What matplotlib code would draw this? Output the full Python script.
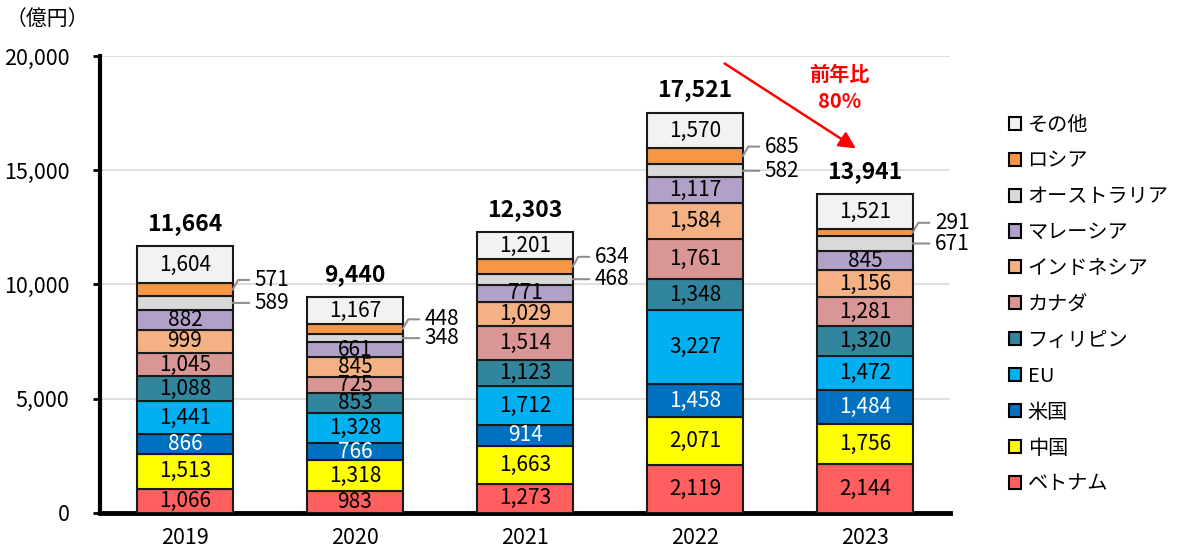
import numpy as np
import matplotlib
matplotlib.use("Agg")
import matplotlib.pyplot as plt
from matplotlib.patches import Patch

plt.rcParams['font.family'] = ['Noto Sans CJK JP', 'DejaVu Sans']

years = ['2019', '2020', '2021', '2022', '2023']
countries = ['ベトナム', '中国', '米国', 'EU', 'フィリピン', 'カナダ',
             'インドネシア', 'マレーシア', 'オーストラリア', 'ロシア', 'その他']
vietnam = [1066, 983, 1273, 2119, 2144]
china = [1513, 1318, 1663, 2071, 1756]
usa = [866, 766, 914, 1458, 1484]
eu = [1441, 1328, 1712, 3227, 1472]
philippines = [1088, 853, 1123, 1348, 1320]
canada = [1045, 725, 1514, 1761, 1281]
indonesia = [999, 845, 1029, 1584, 1156]
malaysia = [882, 661, 771, 1117, 845]
australia = [589, 348, 468, 582, 671]
russia = [571, 448, 634, 685, 291]
others = [1604, 1167, 1201, 1570, 1521]
totals = [11664, 9440, 12303, 17521, 13941]

series = [vietnam, china, usa, eu, philippines, canada,
          indonesia, malaysia, australia, russia, others]
colors = ['#FF5F5F', '#FFFF00', '#0070C0', '#00B0F0', '#31859C', '#DA9694',
          '#F4B183', '#B1A0C7', '#D9D9D9', '#F79646', '#F2F2F2']
label_colors = ['black', 'black', 'white'] + ['black'] * 8
outside = ['オーストラリア', 'ロシア']

fig = plt.figure(figsize=(11.78, 5.49), dpi=100)
ax = fig.add_axes([0.0849, 0.0656, 0.7216, 0.8324])

x = np.arange(len(years))
width = 0.56
bottom = np.zeros(len(years))
for name, vals, col, tcol in zip(countries, series, colors, label_colors):
    vals = np.array(vals, dtype=float)
    ax.bar(x, vals, width, bottom=bottom, color=col, edgecolor='#1a1a1a',
           linewidth=1.5, zorder=3)
    mids = bottom + vals / 2
    for xi, m, v in zip(x, mids, vals):
        if name in outside:
            dy = 7 if name == 'ロシア' else 0
            ax.annotate(f'{int(v):,}', xy=(xi + width / 2, m),
                        xytext=(16, dy), textcoords='offset points',
                        ha='left', va='center', fontsize=15,
                        arrowprops=dict(arrowstyle='-', color='#909090', lw=1.5,
                                        shrinkA=2, shrinkB=0,
                                        connectionstyle='angle,angleA=180,angleB=60,rad=0'
                                        if dy else 'arc3'),
                        zorder=4)
        else:
            ax.text(xi, m, f'{int(v):,}', ha='center', va='center',
                    fontsize=15, color=tcol, zorder=4)
    bottom += vals

for xi, t in zip(x, totals):
    ax.annotate(f'{t:,}', xy=(xi, t), xytext=(0, 8), textcoords='offset points',
                ha='center', va='bottom', fontsize=16.5, fontweight='bold')

# year-on-year arrow
ax.annotate('', xy=(3.96, 15890), xytext=(3.16, 19740),
            arrowprops=dict(arrowstyle='-|>,head_length=1.0,head_width=0.5',
                            color='#FF0000', lw=1.8), annotation_clip=False)
ax.text(3.85, 18600, '前年比\n80%', color='#FF0000', fontsize=14.5,
        fontweight='bold', ha='center', va='center', linespacing=1.3)

ax.set_xlim(-0.5, 4.5)
ax.set_ylim(0, 20000)
ax.set_yticks(np.arange(0, 20001, 5000))
ax.set_yticklabels([f'{v:,}' for v in range(0, 20001, 5000)], fontsize=15.5)
ax.set_xticks(x)
ax.set_xticklabels(years, fontsize=15.5)
ax.tick_params(axis='x', length=0, pad=10)
ax.tick_params(axis='y', length=5, width=2, pad=17)
ax.grid(axis='y', color='#D9D9D9', lw=1.2, zorder=0)
for s in ['top', 'right']:
    ax.spines[s].set_visible(False)
ax.spines['left'].set_linewidth(3)
ax.spines['bottom'].set_linewidth(3.5)

fig.text(0.040, 0.966, '（億円）', fontsize=15, ha='center', va='center')

handles = [Patch(facecolor=c, edgecolor='black', linewidth=1.5)
           for c in colors][::-1]
fig.legend(handles, countries[::-1], loc='upper left',
           bbox_to_anchor=(0.848, 0.81), frameon=False, fontsize=14.5,
           handlelength=0.62, handleheight=0.62, handletextpad=0.3,
           labelspacing=0.74, borderpad=0)

fig.savefig('out.png', dpi=100)
